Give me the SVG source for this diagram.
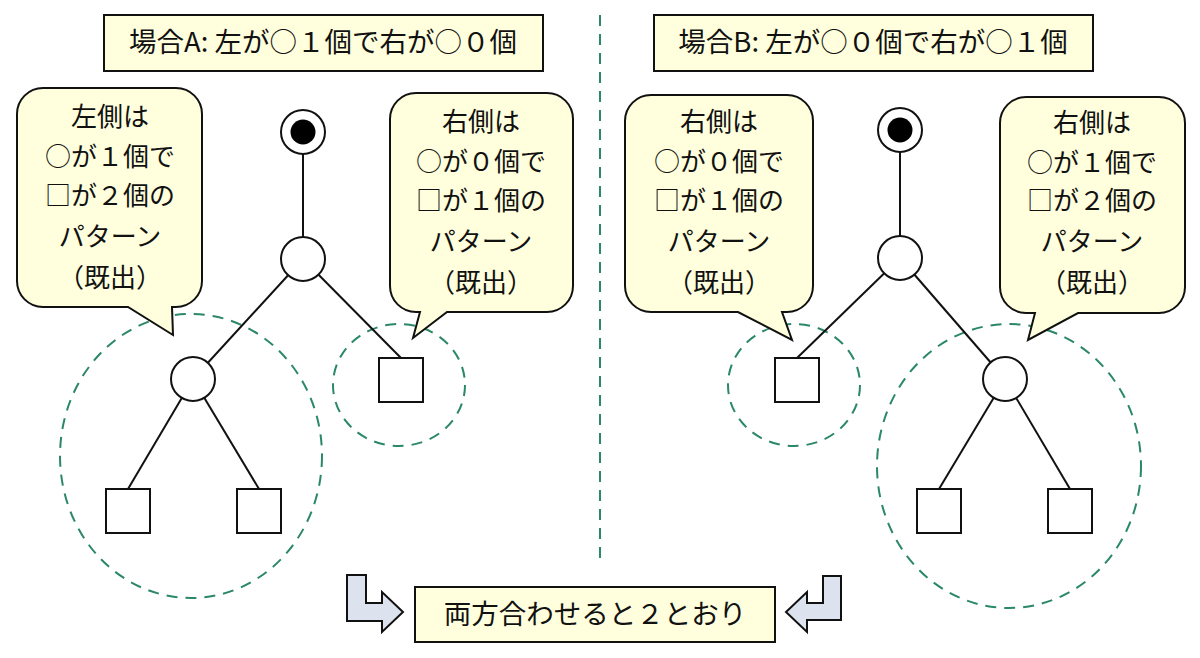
<svg xmlns="http://www.w3.org/2000/svg" width="1200" height="658" viewBox="0 0 1200 658">
<style>
.box{fill:#FFFFDD;stroke:#111;stroke-width:2}
.call{fill:#FFFFDD;stroke:#111;stroke-width:2;stroke-linejoin:miter}
.t{font-family:"Noto Sans CJK JP","Noto Sans",sans-serif;fill:#111;text-anchor:middle}
.tt{font-size:27.5px}
.tc{font-size:26px}
.edge{stroke:#111;stroke-width:2;fill:none}
.node{fill:#fff;stroke:#111;stroke-width:2}
.grp{fill:none;stroke:#2A8868;stroke-width:2;stroke-dasharray:11 8}
.arr{fill:#DDE3EE;stroke:#111;stroke-width:2;stroke-linejoin:miter}
</style>
<line x1="600" y1="15" x2="600" y2="565" class="grp"/>
<g id="groups">
<ellipse cx="191" cy="456" rx="131" ry="142" class="grp"/>
<ellipse cx="399" cy="385" rx="66" ry="61" class="grp"/>
<ellipse cx="794" cy="385" rx="66" ry="61" class="grp"/>
<ellipse cx="1009" cy="466" rx="132" ry="142" class="grp"/>
</g>
<g id="connectors">
<line x1="303" y1="132" x2="303" y2="259" class="edge"/>
<line x1="303" y1="259" x2="193" y2="379" class="edge"/>
<line x1="303" y1="259" x2="401" y2="358" class="edge"/>
<line x1="193" y1="379" x2="128" y2="489" class="edge"/>
<line x1="193" y1="379" x2="259" y2="489" class="edge"/>
<line x1="900" y1="130" x2="900" y2="258" class="edge"/>
<line x1="900" y1="258" x2="797" y2="358" class="edge"/>
<line x1="900" y1="258" x2="1005" y2="379" class="edge"/>
<line x1="1005" y1="379" x2="939" y2="489" class="edge"/>
<line x1="1005" y1="379" x2="1070" y2="489" class="edge"/>
</g>
<g id="A-start"><circle cx="303" cy="132" r="22" class="node"/><circle cx="303" cy="132" r="12.5" fill="#000"/></g>
<g id="A-n1"><circle cx="303" cy="259" r="22" class="node"/></g>
<g id="A-n2"><circle cx="193" cy="379" r="22" class="node"/></g>
<g id="A-s1"><rect x="379" y="358" width="44" height="44" class="node"/></g>
<g id="A-s2"><rect x="106" y="489" width="44" height="44" class="node"/></g>
<g id="A-s3"><rect x="237" y="489" width="44" height="44" class="node"/></g>
<g id="B-start"><circle cx="900" cy="130" r="22" class="node"/><circle cx="900" cy="130" r="12.5" fill="#000"/></g>
<g id="B-n1"><circle cx="900" cy="258" r="22" class="node"/></g>
<g id="B-n2"><circle cx="1005" cy="379" r="22" class="node"/></g>
<g id="B-s1"><rect x="775" y="358" width="44" height="44" class="node"/></g>
<g id="B-s2"><rect x="917" y="489" width="44" height="44" class="node"/></g>
<g id="B-s3"><rect x="1048" y="489" width="44" height="44" class="node"/></g>
<g id="titleA"><rect x="104" y="15" width="439" height="56" class="box"/><text x="323" y="52" class="t tt">場合A: 左が○１個で右が○０個</text></g>
<g id="titleB"><rect x="654" y="15" width="439" height="56" class="box"/><text x="873" y="52" class="t tt">場合B: 左が○０個で右が○１個</text></g>
<g id="calloutA-left">
<path class="call" d="M43,88 H176 A26 26 0 0 1 202,114 V281 A26 26 0 0 1 176,307 H172 L173,335 L128,307 H43 A26 26 0 0 1 17,281 V114 A26 26 0 0 1 43,88 Z"/>
<text class="t tc" x="110" y="126">左側は</text>
<text class="t tc" x="110" y="166">○が１個で</text>
<text class="t tc" x="110" y="205">□が２個の</text>
<text class="t tc" x="110" y="246">パターン</text>
<text class="t tc" x="110" y="287">（既出）</text>
</g>
<g id="calloutA-right">
<path class="call" d="M416,93 H547 A26 26 0 0 1 573,119 V286 A26 26 0 0 1 547,312 H447 L413,338 L420,312 H416 A26 26 0 0 1 390,286 V119 A26 26 0 0 1 416,93 Z"/>
<text class="t tc" x="481" y="131">右側は</text>
<text class="t tc" x="481" y="171">○が０個で</text>
<text class="t tc" x="481" y="210">□が１個の</text>
<text class="t tc" x="481" y="251">パターン</text>
<text class="t tc" x="481" y="292">（既出）</text>
</g>
<g id="calloutB-left">
<path class="call" d="M651,95 H787 A26 26 0 0 1 813,121 V286 A26 26 0 0 1 787,312 H782 L792,340 L738,312 H651 A26 26 0 0 1 625,286 V121 A26 26 0 0 1 651,95 Z"/>
<text class="t tc" x="719" y="131">右側は</text>
<text class="t tc" x="719" y="171">○が０個で</text>
<text class="t tc" x="719" y="210">□が１個の</text>
<text class="t tc" x="719" y="251">パターン</text>
<text class="t tc" x="719" y="292">（既出）</text>
</g>
<g id="calloutB-right">
<path class="call" d="M1026,97 H1159 A26 26 0 0 1 1185,123 V287 A26 26 0 0 1 1159,313 H1078 L1028,340 L1035,313 H1026 A26 26 0 0 1 1000,287 V123 A26 26 0 0 1 1026,97 Z"/>
<text class="t tc" x="1092" y="132">右側は</text>
<text class="t tc" x="1092" y="172">○が１個で</text>
<text class="t tc" x="1092" y="210">□が２個の</text>
<text class="t tc" x="1092" y="251">パターン</text>
<text class="t tc" x="1092" y="292">（既出）</text>
</g>
<g id="arrow-left"><path class="arr" d="M347,575 H366 V603 H382 V592 L403,612 L382,632 V621 H347 Z"/></g>
<g id="arrow-right"><path class="arr" d="M823,576 H841 V620 H807 V632 L786,612 L807,592 V603 H823 Z"/></g>
<g id="result"><rect x="415" y="587" width="360" height="55" class="box"/><text x="595" y="624" class="t tt">両方合わせると２とおり</text></g>
</svg>
